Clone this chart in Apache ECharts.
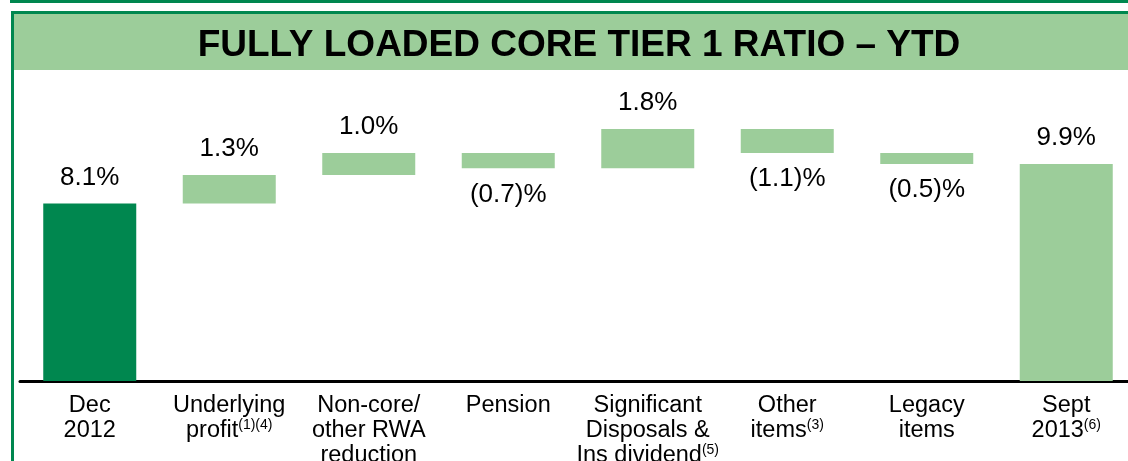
<!DOCTYPE html>
<html>
<head>
<meta charset="utf-8">
<script src="https://cdn.jsdelivr.net/npm/echarts@6/dist/echarts.min.js"></script>
<style>
  html, body { margin: 0; padding: 0; background: #fff; }
  #chart { width: 1128px; height: 461px; }
</style>
</head>
<body>
<div id="chart"></div>
<script>
// waterfall steps, in % points
const categories = [
  'Dec\n2012',
  'Underlying\nprofit{s|(1)(4)}',
  'Non-core/\nother RWA\nreduction',
  'Pension',
  'Significant\nDisposals &\nIns dividend{s|(5)}',
  'Other\nitems{s|(3)}',
  'Legacy\nitems',
  'Sept\n2013{s|(6)}'
]
const deltas = [8.1, 1.3, 1.0, -0.7, 1.8, -1.1, -0.5, 9.9]
const isTotal = [true, false, false, false, false, false, false, true]

const DARK = '#00874f'
const LIGHT = '#9ccd9a'
const FONT = '"Liberation Sans", Arial, sans-serif'

const fmt = (v) => (v < 0 ? '(' + Math.abs(v).toFixed(1) + ')%' : v.toFixed(1) + '%')

// build base (invisible) + visible part of each step
const baseData = []
const barData = []
let running = 0
deltas.forEach((d, i) => {
  if (isTotal[i]) {
    baseData.push(0)
    running = d
  } else {
    const next = running + d
    baseData.push(Math.min(running, next))
    running = next
  }
  barData.push({
    value: Math.abs(d),
    itemStyle: { color: i === 0 ? DARK : LIGHT },
    label: {
      position: d < 0 ? 'bottom' : 'top',
      distance: 13
    }
  })
})

const chart = echarts.init(document.getElementById('chart'))
chart.setOption({
  animation: false,
  textStyle: { fontFamily: FONT },
  graphic: [
    { type: 'rect', shape: { x: 10, y: 0, width: 1120, height: 3 }, style: { fill: DARK }, silent: true },
    { type: 'rect', shape: { x: 14, y: 14, width: 1116, height: 56 }, style: { fill: LIGHT }, silent: true },
    { type: 'rect', shape: { x: 12.5, y: 12.5, width: 1130, height: 460 }, style: { fill: 'none', stroke: DARK, lineWidth: 3 }, silent: true },
    {
      type: 'text', silent: true,
      x: 579, y: 46,
      style: {
        text: 'FULLY LOADED CORE TIER 1 RATIO \u2013 YTD',
        fill: '#000', font: 'bold 37px ' + FONT,
        align: 'center', verticalAlign: 'middle'
      }
    }
  ],
  grid: { left: 20, right: -8, top: 96, bottom: 80, outerBoundsMode: 'none' },
  xAxis: {
    type: 'category',
    data: categories,
    axisTick: { show: false },
    axisLine: { lineStyle: { color: '#000', width: 3 } },
    axisLabel: {
      interval: 0,
      margin: 12,
      color: '#000',
      fontSize: 23.5,
      lineHeight: 25,
      fontFamily: FONT,
      rich: {
        s: { fontSize: 14, lineHeight: 14, verticalAlign: 'top', color: '#000', fontFamily: FONT }
      }
    }
  },
  yAxis: { type: 'value', min: 0, max: 13, show: false, splitLine: { show: false } },
  series: [
    {
      type: 'bar', stack: 'w', barWidth: 93, silent: true,
      itemStyle: { color: 'transparent' },
      data: baseData
    },
    {
      type: 'bar', stack: 'w', barWidth: 93,
      data: barData,
      label: {
        show: true,
        color: '#000',
        fontSize: 26,
        fontFamily: FONT,
        formatter: (p) => fmt(deltas[p.dataIndex])
      }
    }
  ]
})
</script>
</body>
</html>
